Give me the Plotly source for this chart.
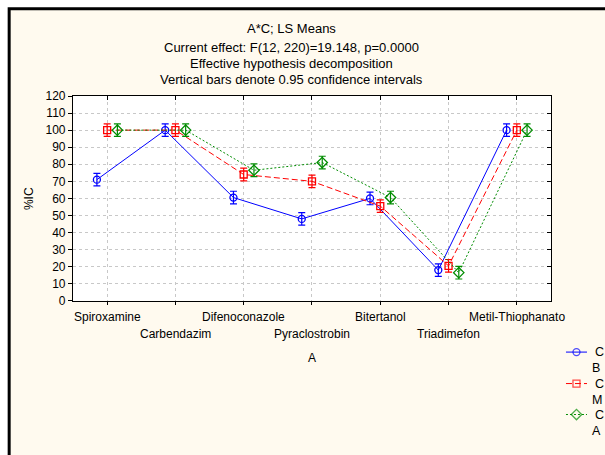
import plotly.graph_objects as go

# Least-squares means of %IC per fungicide (A) for each level of C
categories = ["Spiroxamine", "Carbendazim", "Difenoconazole", "Pyraclostrobin",
              "Bitertanol", "Triadimefon", "Metil-Thiophanato"]
factor_name = "C"
levels = ["B", "M", "A"]
means_B = [71.0, 100.0, 60.5, 48.0, 60.0, 18.0, 100.0]
means_M = [100.0, 100.0, 74.0, 70.0, 55.5, 20.5, 100.0]
means_A = [100.0, 100.0, 76.5, 81.0, 60.5, 16.5, 100.0]
ci_B = [3.7, 3.7, 3.7, 3.7, 3.7, 3.7, 3.7]
ci_M = [3.7, 3.7, 3.7, 3.7, 3.7, 3.7, 3.7]
ci_A = [3.7, 3.7, 3.7, 3.7, 3.7, 3.7, 3.7]
y_ticks = list(range(0, 121, 10))
title_lines = ["A*C; LS Means",
               "Current effect: F(12, 220)=19.148, p=0.0000",
               "Effective hypothesis decomposition",
               "Vertical bars denote 0.95 confidence intervals"]

FONT = "Arial, 'Liberation Sans', sans-serif"
W, H = 605, 455
# plotting frame (pixels)
L, R, T, B = 73.3, 551.0, 95.7, 300.7
# paper region is wider/taller so the key can sit on its own small axes
PR, PB = 603.0, 447.0
PW, PH = PR - L, PB - T


def px_x(p):
    return (p - L) / PW


def px_y(p):
    return (PB - p) / PH


styles = [
    dict(color="#0000FF", dash="solid", symbol="circle-open", size=7),
    dict(color="#FF0000", dash="6px,3px", symbol="square-open", size=7),
    dict(color="#008C00", dash="2px,2px", symbol="diamond-open", size=8),
]
offsets = [-0.15, 0.0, 0.15]

fig = go.Figure()
for vals, ci, st, off in zip([means_B, means_M, means_A], [ci_B, ci_M, ci_A],
                             styles, offsets):
    fig.add_trace(go.Scatter(
        x=[i + off for i in range(len(categories))], y=vals,
        mode="lines+markers", showlegend=False,
        line=dict(color=st["color"], width=1, dash=st["dash"]),
        marker=dict(symbol=st["symbol"], size=st["size"], color=st["color"],
                    line=dict(color=st["color"], width=1.3)),
        error_y=dict(type="data", array=ci, visible=True, color=st["color"],
                     thickness=1.2, width=3.5),
        cliponaxis=False,
    ))

# invisible trace so the mirrored inner-tick axes are drawn
fig.add_trace(go.Scatter(x=[], y=[], xaxis="x2", yaxis="y2", showlegend=False,
                         hoverinfo="skip"))

# key: short line samples on a small axes of their own (units are pixels)
key_rows = [352, 383.5, 414.5]
for st, row in zip(styles, key_rows):
    fig.add_trace(go.Scatter(
        x=[566, 576.5, 587], y=[-row, -row, -row], xaxis="x3", yaxis="y3",
        mode="lines+markers", showlegend=False, hoverinfo="skip",
        line=dict(color=st["color"], width=1, dash=st["dash"]),
        marker=dict(symbol=st["symbol"], size=[0, st["size"], 0], color=st["color"],
                    line=dict(color=st["color"], width=1.3)),
        cliponaxis=False,
    ))

annotations = []
for i, line in enumerate(title_lines):
    annotations.append(dict(
        text=line, xref="paper", yref="paper", x=px_x(292), y=px_y([28, 47, 63, 79][i]),
        showarrow=False, xanchor="center", yanchor="middle",
        font=dict(family=FONT, size=13, color="#000000")))

for i, cat in enumerate(categories):
    annotations.append(dict(
        text=cat, xref="x", yref="paper", x=i, y=px_y(B),
        yshift=-16 if i % 2 == 0 else -33.5,
        showarrow=False, xanchor="center", yanchor="middle",
        font=dict(family=FONT, size=12, color="#000000")))

for lvl, row in zip(levels, key_rows):
    annotations.append(dict(text=factor_name, xref="paper", yref="paper",
                            x=px_x(593), y=px_y(row), xanchor="left", yanchor="middle",
                            showarrow=False, font=dict(family=FONT, size=12.5, color="#000000")))
    annotations.append(dict(text=lvl, xref="paper", yref="paper",
                            x=px_x(590), y=px_y(row + 16), xanchor="left", yanchor="middle",
                            showarrow=False, font=dict(family=FONT, size=12.5, color="#000000")))

annotations.append(dict(text="A", xref="paper", yref="paper", x=px_x(312), y=px_y(358),
                        xanchor="center", yanchor="middle",
                        showarrow=False, font=dict(family=FONT, size=12, color="#000000")))
annotations.append(dict(text="%IC", xref="paper", yref="paper", x=px_x(30),
                        y=px_y((T + B) / 2), xanchor="center", yanchor="middle",
                        textangle=-90, showarrow=False,
                        font=dict(family=FONT, size=12, color="#000000")))

shapes = [
    dict(type="rect", xref="paper", yref="paper", layer="below",
         x0=px_x(9.5), x1=px_x(W + 10), y0=px_y(H + 10), y1=px_y(8.5),
         fillcolor="#FFFAEF", line=dict(color="#000000", width=3)),
    dict(type="rect", xref="paper", yref="paper", layer="below",
         x0=px_x(L), x1=px_x(R), y0=px_y(B), y1=px_y(T),
         fillcolor="#FFFFFF", line=dict(width=0)),
]

xdom = [0, px_x(R)]
ydom = [px_y(B), 1]

fig.update_layout(
    width=W, height=H,
    margin=dict(l=L, r=W - PR, t=T, b=H - PB, autoexpand=False),
    paper_bgcolor="#FFFFFF", plot_bgcolor="#FFFFFF",
    font=dict(family=FONT, size=12, color="#000000"),
    showlegend=False,
    xaxis=dict(domain=xdom, range=[-0.5, 6.5], tickvals=list(range(len(categories))),
               showticklabels=False, ticks="outside", ticklen=3, tickcolor="#000000",
               showline=True, linecolor="#000000", linewidth=1.2, mirror=True,
               showgrid=True, gridcolor="#C8C8C8", griddash="dot", gridwidth=1,
               zeroline=False),
    yaxis=dict(domain=ydom, range=[0, 120], tickvals=y_ticks, ticks="outside", ticklen=4,
               tickcolor="#000000", tickfont=dict(family=FONT, size=12),
               showline=True, linecolor="#000000", linewidth=1.2, mirror=True,
               showgrid=True, gridcolor="#C8C8C8", griddash="dot", gridwidth=1,
               zeroline=False),
    xaxis2=dict(range=[-0.5, 6.5], tickvals=list(range(len(categories))),
                overlaying="x", side="top", ticks="inside", ticklen=4,
                tickcolor="#000000", showticklabels=False, showgrid=False,
                showline=False, zeroline=False),
    yaxis2=dict(range=[0, 120], tickvals=y_ticks, overlaying="y", side="right",
                ticks="inside", ticklen=4, tickcolor="#000000",
                showticklabels=False, showgrid=False, showline=False, zeroline=False),
    xaxis3=dict(domain=[px_x(560), 1], range=[560, PR], visible=False, anchor="y3"),
    yaxis3=dict(domain=[0, px_y(330)], range=[-PB, -330], visible=False, anchor="x3"),
    annotations=annotations,
    shapes=shapes,
)

fig.write_html("out.html")
